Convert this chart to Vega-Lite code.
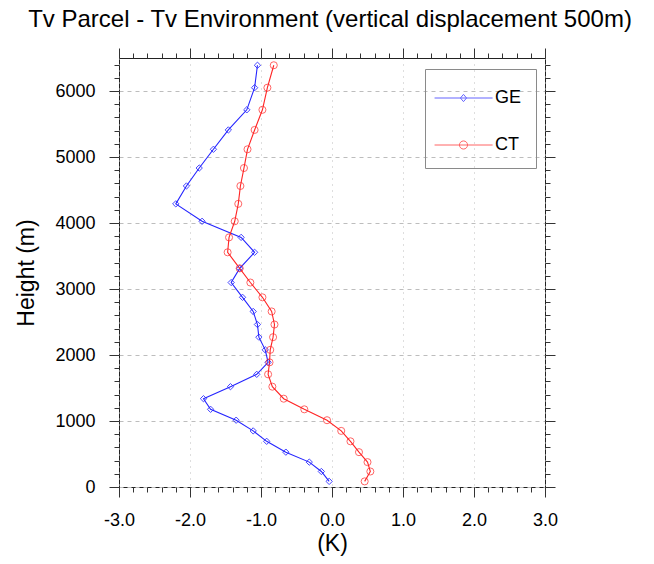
{
  "$schema": "https://vega.github.io/schema/vega-lite/v6.json",
  "width": 426,
  "height": 429,
  "autosize": {"type": "none"},
  "padding": {"left": 119, "top": 58, "right": 109, "bottom": 77},
  "title": {"text": "Tv Parcel - Tv Environment (vertical displacement 500m)", "fontSize": 24, "font": "Liberation Sans", "fontWeight": "normal", "color": "#000", "offset": 16, "dx": -2},
  "config": {
    "view": {"stroke": "#222", "strokeWidth": 1},
    "font": "Liberation Sans",
    "axis": {"domain": false, "labelFont": "Liberation Sans", "labelFontSize": 18, "labelColor": "#000", "tickColor": "#333", "tickWidth": 1, "titleFont": "Liberation Sans", "titleFontWeight": "normal", "titleFontSize": 23, "titleColor": "#000", "gridColor": "#bdbdbd", "gridWidth": 1},
    "legend": {"padding": 14, "strokeColor": "#8a8a8a", "strokeWidth": 1, "symbolSize": 841, "symbolStrokeWidth": 1, "labelFont": "Liberation Sans", "labelFontSize": 18, "labelColor": "#000", "labelOffset": 26, "rowPadding": 23}
  },
  "datasets": {
    "profiles": [
      {"series": "GE", "height": 6390, "K": -1.05},
      {"series": "GE", "height": 6050, "K": -1.09},
      {"series": "GE", "height": 5715, "K": -1.20},
      {"series": "GE", "height": 5410, "K": -1.46},
      {"series": "GE", "height": 5117, "K": -1.67},
      {"series": "GE", "height": 4833, "K": -1.87},
      {"series": "GE", "height": 4561, "K": -2.05},
      {"series": "GE", "height": 4290, "K": -2.20},
      {"series": "GE", "height": 4026, "K": -1.83},
      {"series": "GE", "height": 3782, "K": -1.28},
      {"series": "GE", "height": 3556, "K": -1.09},
      {"series": "GE", "height": 3313, "K": -1.30},
      {"series": "GE", "height": 3098, "K": -1.42},
      {"series": "GE", "height": 2874, "K": -1.26},
      {"series": "GE", "height": 2660, "K": -1.11},
      {"series": "GE", "height": 2462, "K": -1.05},
      {"series": "GE", "height": 2270, "K": -1.03},
      {"series": "GE", "height": 2078, "K": -0.94},
      {"series": "GE", "height": 1889, "K": -0.90},
      {"series": "GE", "height": 1707, "K": -1.06},
      {"series": "GE", "height": 1520, "K": -1.43},
      {"series": "GE", "height": 1338, "K": -1.81},
      {"series": "GE", "height": 1177, "K": -1.71},
      {"series": "GE", "height": 1012, "K": -1.35},
      {"series": "GE", "height": 850, "K": -1.11},
      {"series": "GE", "height": 692, "K": -0.92},
      {"series": "GE", "height": 528, "K": -0.65},
      {"series": "GE", "height": 377, "K": -0.32},
      {"series": "GE", "height": 235, "K": -0.15},
      {"series": "GE", "height": 85, "K": -0.04},
      {"series": "CT", "height": 6390, "K": -0.82},
      {"series": "CT", "height": 6050, "K": -0.91},
      {"series": "CT", "height": 5715, "K": -0.98},
      {"series": "CT", "height": 5410, "K": -1.09},
      {"series": "CT", "height": 5117, "K": -1.19},
      {"series": "CT", "height": 4833, "K": -1.24},
      {"series": "CT", "height": 4561, "K": -1.29},
      {"series": "CT", "height": 4290, "K": -1.32},
      {"series": "CT", "height": 4026, "K": -1.37},
      {"series": "CT", "height": 3782, "K": -1.45},
      {"series": "CT", "height": 3556, "K": -1.47},
      {"series": "CT", "height": 3313, "K": -1.30},
      {"series": "CT", "height": 3098, "K": -1.15},
      {"series": "CT", "height": 2874, "K": -0.98},
      {"series": "CT", "height": 2660, "K": -0.85},
      {"series": "CT", "height": 2462, "K": -0.81},
      {"series": "CT", "height": 2270, "K": -0.83},
      {"series": "CT", "height": 2078, "K": -0.87},
      {"series": "CT", "height": 1889, "K": -0.88},
      {"series": "CT", "height": 1707, "K": -0.90},
      {"series": "CT", "height": 1520, "K": -0.84},
      {"series": "CT", "height": 1338, "K": -0.68},
      {"series": "CT", "height": 1177, "K": -0.39},
      {"series": "CT", "height": 1012, "K": -0.07},
      {"series": "CT", "height": 850, "K": 0.13},
      {"series": "CT", "height": 692, "K": 0.26},
      {"series": "CT", "height": 528, "K": 0.38},
      {"series": "CT", "height": 377, "K": 0.50},
      {"series": "CT", "height": 235, "K": 0.54},
      {"series": "CT", "height": 85, "K": 0.46}
    ],
    "keys": [{"series": "GE"}, {"series": "CT"}]
  },
  "data": {"name": "profiles"},
  "layer": [
    {
      "data": {"name": "keys"},
      "mark": {"type": "point", "filled": false, "strokeWidth": 1},
      "encoding": {
        "x": {"field": "K", "type": "quantitative", "scale": {"domain": [-3, 3], "nice": false, "zero": false},
          "axis": {"orient": "top", "values": [-3, -2.8, -2.6, -2.4, -2.2, -2, -1.8, -1.6, -1.4, -1.2, -1, -0.8, -0.6, -0.4, -0.2, 0, 0.2, 0.4, 0.6, 0.8, 1, 1.2, 1.4, 1.6, 1.8, 2, 2.2, 2.4, 2.6, 2.8, 3], "tickSize": 5, "labels": false, "title": null, "grid": false}},
        "y": {"field": "height", "type": "quantitative", "scale": {"domain": [0, 6500], "nice": false, "zero": false},
          "axis": {"orient": "right", "values": [0, 200, 400, 600, 800, 1000, 1200, 1400, 1600, 1800, 2000, 2200, 2400, 2600, 2800, 3000, 3200, 3400, 3600, 3800, 4000, 4200, 4400, 4600, 4800, 5000, 5200, 5400, 5600, 5800, 6000, 6200, 6400], "tickSize": 5, "labels": false, "title": null, "grid": false}},
        "color": {"field": "series", "type": "nominal", "scale": {"domain": ["GE", "CT"], "range": ["#2424ff", "#ff2424"]}, "legend": {"orient": "none", "legendX": 306, "legendY": 11, "title": null}},
        "shape": {"field": "series", "type": "nominal",
          "scale": {"domain": ["GE", "CT"], "range": ["M-1.34,0L2.66,0M0.655,-0.25L0.865,0L0.655,0.25L0.445,0Z", "M-1.34,0L2.66,0M0.375,0A0.28,0.28,0,1,1,0.935,0A0.28,0.28,0,1,1,0.375,0"]},
          "legend": {"orient": "none", "legendX": 306, "legendY": 11, "title": null}}
      }
    },
    {
      "mark": {"type": "line", "strokeWidth": 1.1},
      "encoding": {
        "x": {"field": "K", "type": "quantitative",
          "axis": {"orient": "bottom", "values": [-3, -2, -1, 0, 1, 2, 3], "labelExpr": "datum.value < 0 ? '-' + format(-datum.value, '.1f') : format(datum.value, '.1f')", "tickSize": 10, "labelPadding": 14, "labelFlush": false, "title": "(K)", "titlePadding": 3, "grid": true, "gridDash": [1, 5]}},
        "y": {"field": "height", "type": "quantitative",
          "axis": {"orient": "left", "values": [0, 1000, 2000, 3000, 4000, 5000, 6000], "format": "d", "tickSize": 10, "labelPadding": 14, "labelFlush": false, "title": "Height (m)", "titlePadding": 16, "grid": true, "gridDash": [4, 4]}},
        "color": {"field": "series", "type": "nominal", "legend": null},
        "order": {"field": "height", "type": "quantitative"}
      }
    },
    {
      "transform": [{"filter": "datum.series === 'GE'"}],
      "mark": {"type": "point", "shape": "diamond", "filled": false, "size": 40, "strokeWidth": 1, "opacity": 0.85},
      "encoding": {
        "x": {"field": "K", "type": "quantitative",
          "axis": {"orient": "bottom", "values": [-3, -2.8, -2.6, -2.4, -2.2, -2, -1.8, -1.6, -1.4, -1.2, -1, -0.8, -0.6, -0.4, -0.2, 0, 0.2, 0.4, 0.6, 0.8, 1, 1.2, 1.4, 1.6, 1.8, 2, 2.2, 2.4, 2.6, 2.8, 3], "tickSize": 5, "labels": false, "title": null, "grid": false}},
        "y": {"field": "height", "type": "quantitative",
          "axis": {"orient": "left", "values": [0, 200, 400, 600, 800, 1000, 1200, 1400, 1600, 1800, 2000, 2200, 2400, 2600, 2800, 3000, 3200, 3400, 3600, 3800, 4000, 4200, 4400, 4600, 4800, 5000, 5200, 5400, 5600, 5800, 6000, 6200, 6400], "tickSize": 5, "labels": false, "title": null, "grid": false}},
        "color": {"field": "series", "type": "nominal", "legend": null}
      }
    },
    {
      "transform": [{"filter": "datum.series === 'CT'"}],
      "mark": {"type": "point", "shape": "circle", "filled": false, "size": 50, "strokeWidth": 1, "opacity": 0.7},
      "encoding": {
        "x": {"field": "K", "type": "quantitative",
          "axis": {"orient": "top", "values": [-3, -2, -1, 0, 1, 2, 3], "tickSize": 10, "labels": false, "title": null, "grid": false}},
        "y": {"field": "height", "type": "quantitative",
          "axis": {"orient": "right", "values": [0, 1000, 2000, 3000, 4000, 5000, 6000], "tickSize": 10, "labels": false, "title": null, "grid": false}},
        "color": {"field": "series", "type": "nominal", "legend": null}
      }
    }
  ],
  "resolve": {"axis": {"x": "independent", "y": "independent"}}
}
